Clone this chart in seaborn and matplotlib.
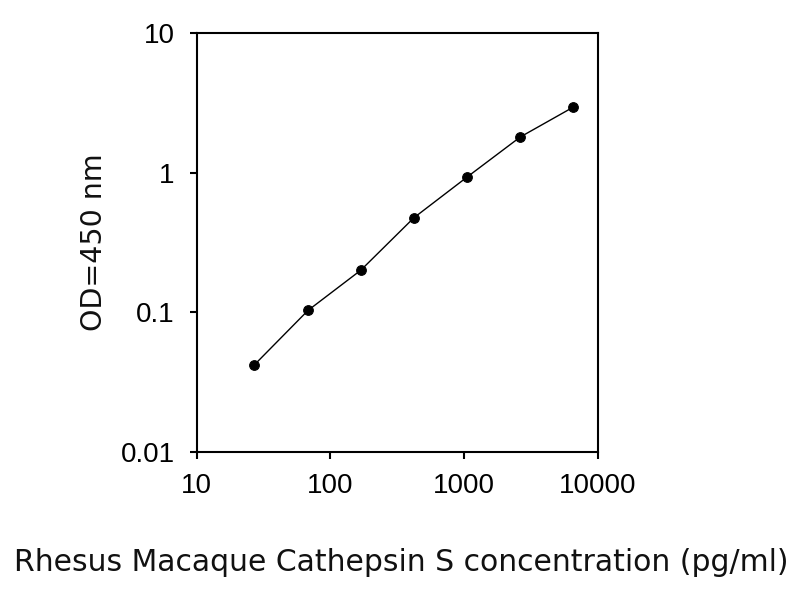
import numpy as np
import pandas as pd
import matplotlib
matplotlib.use("Agg")
import matplotlib.pyplot as plt
import matplotlib.ticker as mticker
import seaborn as sns

# Standard curve readings
concentration = [27, 68, 169, 422, 1056, 2640, 6600]
od_450 = [0.042, 0.103, 0.20, 0.475, 0.93, 1.80, 2.95]

x_ticks = [10, 100, 1000, 10000]
y_ticks = [0.01, 0.1, 1, 10]

df = pd.DataFrame({"conc": concentration, "od": od_450})

sns.set_style("ticks")
plt.rcParams["font.family"] = ["Liberation Sans", "DejaVu Sans"]

fig = plt.figure(figsize=(8, 6), dpi=100)
ax = fig.add_axes([0.246, 0.247, 0.501, 0.698])

sns.lineplot(data=df, x="conc", y="od", ax=ax, color="black", linewidth=1.0,
             marker="o", markersize=7, markeredgecolor="black")

ax.set_xscale("log")
ax.set_yscale("log")
ax.set_xlim(10, 10000)
ax.set_ylim(0.01, 10)
ax.set_xticks(x_ticks)
ax.set_yticks(y_ticks)
ax.xaxis.set_major_formatter(mticker.FuncFormatter(lambda v, p: f"{v:g}"))
ax.yaxis.set_major_formatter(mticker.FuncFormatter(lambda v, p: f"{v:g}"))
ax.xaxis.set_minor_locator(mticker.NullLocator())
ax.yaxis.set_minor_locator(mticker.NullLocator())
ax.tick_params(axis="both", which="major", labelsize=20, length=5, width=1.5,
               direction="out", colors="black")
ax.tick_params(axis="x", pad=10)
ax.tick_params(axis="y", pad=11)
for s in ax.spines.values():
    s.set_linewidth(1.5)
    s.set_color("black")

ax.set_xlabel("Rhesus Macaque Cathepsin S concentration (pg/ml)",
              fontsize=21.5, family="DejaVu Sans", color="#111111")
ax.set_ylabel("OD=450 nm", fontsize=20.5, family="DejaVu Sans", color="#111111")
ax.xaxis.set_label_coords(0.509, -0.23)
ax.yaxis.set_label_coords(-0.222, 0.5)

fig.savefig("out.png", dpi=100)
